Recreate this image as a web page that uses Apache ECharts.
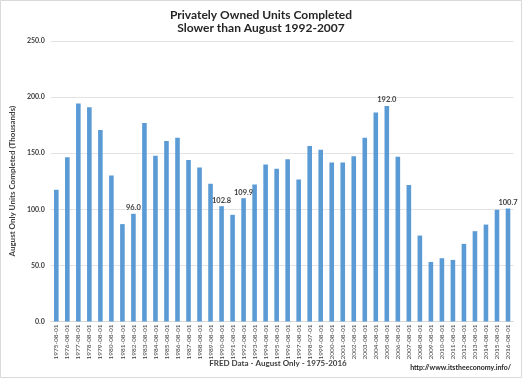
<!DOCTYPE html>
<html><head><meta charset="utf-8">
<script src="https://cdn.jsdelivr.net/npm/echarts@6/dist/echarts.min.js"></script>
<style>html,body{margin:0;padding:0;background:#fff}#c{width:522px;height:379px}</style>
</head><body><div id="c"></div>
<script>
const categories = ["1975-08-01","1976-08-01","1977-08-01","1978-08-01","1979-08-01","1980-08-01","1981-08-01","1982-08-01","1983-08-01","1984-08-01","1985-08-01","1986-08-01","1987-08-01","1988-08-01","1989-08-01","1990-08-01","1991-08-01","1992-08-01","1993-08-01","1994-08-01","1995-08-01","1996-08-01","1997-08-01","1998-07-01","1999-08-01","2000-08-01","2001-08-01","2002-08-01","2003-08-01","2004-08-01","2005-08-01","2006-08-01","2007-08-01","2008-08-01","2009-08-01","2010-08-01","2011-08-01","2012-08-01","2013-08-01","2014-08-01","2015-08-01","2016-08-01"];
const unitsCompleted = [117.4,146.3,194.2,190.9,170.7,130.2,86.8,96.0,177.0,147.8,160.9,163.8,143.9,137.3,122.8,102.8,95.1,109.9,122.1,140.0,136.2,144.5,126.6,156.4,153.1,141.8,141.8,147.2,163.8,186.2,192.0,146.9,121.6,76.6,53.1,56.4,54.9,69.2,80.5,86.4,99.6,100.7];
const labeledCategories = ["1982-08-01","1990-08-01","1992-08-01","2005-08-01","2016-08-01"];
const yTicks = [0,50,100,150,200,250];

const FONT = 'Lato, "Open Sans", sans-serif';
const chart = echarts.init(document.getElementById('c'), null, {renderer:'canvas'});
const data = unitsCompleted.map((v,i)=>{
  const d = {value:v};
  if (labeledCategories.includes(categories[i])) {
    d.label = {show:true, position:'top', distance:2, formatter:p=>p.value.toFixed(1), fontSize:7.5, fontWeight:'bold', fontFamily:FONT, color:'#404040'};
    d.labelLine = {show:true, lineStyle:{color:'#a6a6a6', width:1}};
    d.labelLayout = {dy:-7};
  }
  return d;
});
chart.setOption({
  animation:false,
  backgroundColor:'#fff',
  textStyle:{fontFamily:FONT},
  title:{text:'Privately Owned Units Completed\nSlower than August 1992-2007', left:'center', top:4,
    textStyle:{fontSize:12, fontWeight:'bold', color:'#262626', fontFamily:FONT, lineHeight:13}},
  grid:{left:43, right:8.5, top:41, bottom:57.5, containLabel:false},
  xAxis:{type:'category', data:categories,
    axisLine:{lineStyle:{color:'#d9d9d9'}}, axisTick:{show:false},
    axisLabel:{rotate:90, fontSize:6.5, color:'#404040', fontFamily:FONT, margin:3, interval:0}},
  yAxis:{type:'value', min:0, max:250, interval:50,
    name:'August Only Units Completed (Thousands)', nameLocation:'middle', nameGap:25,
    nameTextStyle:{fontSize:8, fontWeight:'bold', color:'#404040', fontFamily:FONT},
    axisLine:{show:false}, axisTick:{show:false},
    splitLine:{lineStyle:{color:'#e3e3e3'}},
    axisLabel:{formatter:v=>yTicks.includes(v)?v.toFixed(1):'', fontSize:7, fontWeight:'bold', color:'#404040', fontFamily:FONT, margin:6}},
  series:[{type:'bar', data:data, barWidth:4.6, itemStyle:{color:'#5b9bd5'}}],
  graphic:[
    {type:'rect', shape:{x:0.5,y:0.5,width:521,height:377}, style:{fill:null, stroke:'#d9d9d9', lineWidth:1}, silent:true},
    {type:'text', x:278, y:363, style:{text:'FRED Data - August Only - 1975-2016', font:'bold 8px '+FONT, fill:'#404040', align:'center', verticalAlign:'middle'}},
    {type:'text', x:511, y:368, style:{text:'http://www.itstheeconomy.info/', font:'bold 7px '+FONT, fill:'#262626', align:'right', verticalAlign:'middle'}}
  ]
});
</script></body></html>
